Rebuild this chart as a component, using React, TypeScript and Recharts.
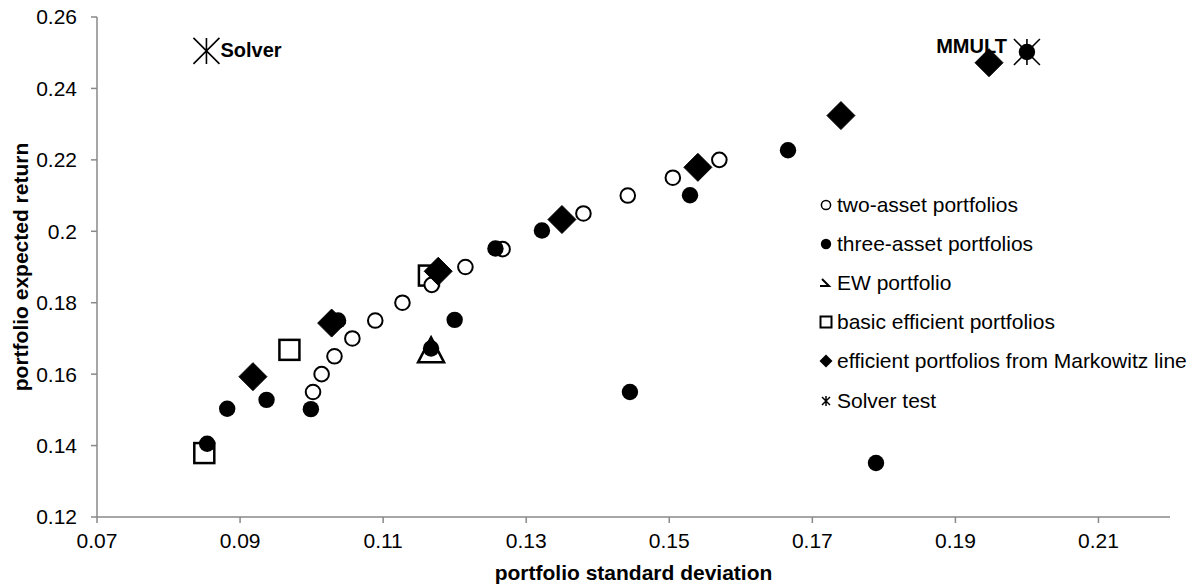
import React from 'react';
import { ScatterChart, Scatter, XAxis, YAxis, Legend, Label } from 'recharts';

const FONT = '"Liberation Sans", Arial, sans-serif';
const AXIS = '#898989';

// portfolio std dev / expected return per series
const twoAssetSd = [0.1002, 0.1014, 0.1032, 0.1057, 0.1089, 0.1127, 0.1168, 0.1215, 0.1267, 0.138, 0.1442, 0.1505, 0.157];
const twoAssetRet = [0.155, 0.16, 0.165, 0.17, 0.175, 0.18, 0.185, 0.19, 0.195, 0.205, 0.21, 0.215, 0.22];

const threeAssetSd = [0.0854, 0.0882, 0.0937, 0.0999, 0.1037, 0.1167, 0.12, 0.1257, 0.1322, 0.1445, 0.1529, 0.1666, 0.1789, 0.2];
const threeAssetRet = [0.1405, 0.1503, 0.1528, 0.1502, 0.175, 0.1672, 0.1752, 0.1952, 0.2002, 0.155, 0.2101, 0.2227, 0.1351, 0.2502];

const ewSd = [0.1167];
const ewRet = [0.1668];

const basicSd = [0.085, 0.0969, 0.1164];
const basicRet = [0.1379, 0.1668, 0.1876];

const markowitzSd = [0.0918, 0.1028, 0.1177, 0.135, 0.154, 0.174, 0.1947];
const markowitzRet = [0.1593, 0.1743, 0.1888, 0.2033, 0.2179, 0.2324, 0.2472];

const solverSd = [0.0853, 0.2];
const solverRet = [0.2505, 0.2502];
const solverLabels = ['Solver', 'MMULT'];

const xTicks = [0.07, 0.09, 0.11, 0.13, 0.15, 0.17, 0.19, 0.21];
const yTicks = [0.12, 0.14, 0.16, 0.18, 0.2, 0.22, 0.24, 0.26];

const legendNames = [
  'two-asset portfolios',
  'three-asset portfolios',
  'EW portfolio',
  'basic efficient portfolios',
  'efficient portfolios from Markowitz line',
  'Solver test',
];

const zip = (xs: number[], ys: number[]) => xs.map((x, i) => ({ x, y: ys[i] }));
const fmt = (v: number) => String(Number(v.toFixed(2)));

const OpenCircle = (p: any) => (
  <circle cx={p.cx} cy={p.cy} r={7.3} fill="#fff" stroke="#000" strokeWidth={2} />
);
const FilledCircle = (p: any) => <circle cx={p.cx} cy={p.cy} r={8.2} fill="#000" />;
const Square = (p: any) => (
  <rect x={p.cx - 10} y={p.cy - 10} width={20} height={20} fill="none" stroke="#000" strokeWidth={2.5} />
);
const Triangle = (p: any) => (
  <polygon
    points={`${p.cx},${p.cy - 12.5} ${p.cx + 13},${p.cy + 12.5} ${p.cx - 13},${p.cy + 12.5}`}
    fill="none"
    stroke="#000"
    strokeWidth={2.5}
    strokeLinejoin="miter"
  />
);
const Diamond = (p: any) => (
  <polygon
    points={`${p.cx},${p.cy - 14} ${p.cx + 14},${p.cy} ${p.cx},${p.cy + 14} ${p.cx - 14},${p.cy}`}
    fill="#000"
    stroke="#000"
    strokeWidth={1}
    strokeLinejoin="round"
  />
);
const Star = (p: any) => {
  const { cx, cy, index } = p;
  const h = 13;
  const label = solverLabels[index];
  const left = index === 1;
  return (
    <g>
      <path
        d={`M${cx - h},${cy - h}L${cx + h},${cy + h}M${cx + h},${cy - h}L${cx - h},${cy + h}M${cx},${cy - h}L${cx},${cy + h}`}
        stroke="#000"
        strokeWidth={1.6}
        fill="none"
      />
      <text
        x={left ? cx - 20 : cx + 14}
        y={left ? cy + 1 : cy + 6}
        textAnchor={left ? 'end' : 'start'}
        fontFamily={FONT}
        fontSize={20}
        fontWeight="bold"
        fill="#000"
      >
        {label}
      </text>
    </g>
  );
};

const legendIcons = [
  <circle cx={8} cy={8} r={4.6} fill="none" stroke="#000" strokeWidth={1.5} />,
  <circle cx={8} cy={8} r={5.2} fill="#000" />,
  <path d="M4,4 L11,11 L2,11" fill="none" stroke="#000" strokeWidth={2} />,
  <rect x={2.5} y={2.5} width={11} height={11} fill="none" stroke="#000" strokeWidth={2} />,
  <polygon points="8,1.5 14.5,8 8,14.5 1.5,8" fill="#000" />,
  <path d="M4,4L12,12M12,4L4,12M8,3L8,13" stroke="#000" strokeWidth={1.5} fill="none" />,
];

const LegendBox = () => (
  <div style={{ fontFamily: FONT, fontSize: 21, color: '#000' }}>
    {legendNames.map((name, i) => (
      <div key={name} style={{ display: 'flex', alignItems: 'center', height: 39.2, whiteSpace: 'nowrap' }}>
        <svg width={16} height={16} style={{ marginRight: 3 }}>
          {legendIcons[i]}
        </svg>
        <span>{name}</span>
      </div>
    ))}
  </div>
);

export default function App() {
  return (
    <div style={{ position: 'absolute', left: 0, top: 0, background: '#fff' }}>
      <ScatterChart width={1198} height={586} margin={{ top: 17, right: 28, bottom: 0, left: 0 }}>
        <XAxis
          type="number"
          dataKey="x"
          domain={[0.07, 0.22]}
          ticks={xTicks}
          interval={0}
          tickFormatter={fmt}
          tickSize={6}
          tickMargin={10}
          height={69}
          stroke={AXIS}
          strokeWidth={1.5}
          tick={{ fill: '#000', fontSize: 21, fontFamily: FONT }}
          allowDataOverflow
        >
          <Label
            value="portfolio standard deviation"
            position="insideBottom"
            offset={6}
            fill="#000"
            fontSize={21}
            fontWeight="bold"
            fontFamily={FONT}
          />
        </XAxis>
        <YAxis
          type="number"
          dataKey="y"
          domain={[0.12, 0.26]}
          ticks={yTicks}
          interval={0}
          tickFormatter={fmt}
          tickSize={6}
          tickMargin={14}
          width={97}
          stroke={AXIS}
          strokeWidth={1.5}
          tick={{ fill: '#000', fontSize: 21, fontFamily: FONT }}
          allowDataOverflow
        >
          <Label
            value="portfolio expected return"
            position="insideLeft"
            angle={-90}
            offset={21}
            fill="#000"
            fontSize={21}
            fontWeight="bold"
            fontFamily={FONT}
            style={{ textAnchor: 'middle' }}
          />
        </YAxis>
        <Legend
          layout="vertical"
          align="center"
          verticalAlign="middle"
          content={() => <LegendBox />}
          wrapperStyle={{ left: 818, top: 185, width: 380 }}
        />
        <Scatter name="basic efficient portfolios" data={zip(basicSd, basicRet)} shape={Square} isAnimationActive={false} />
        <Scatter name="EW portfolio" data={zip(ewSd, ewRet)} shape={Triangle} isAnimationActive={false} />
        <Scatter name="two-asset portfolios" data={zip(twoAssetSd, twoAssetRet)} shape={OpenCircle} isAnimationActive={false} />
        <Scatter name="three-asset portfolios" data={zip(threeAssetSd, threeAssetRet)} shape={FilledCircle} isAnimationActive={false} />
        <Scatter name="efficient portfolios from Markowitz line" data={zip(markowitzSd, markowitzRet)} shape={Diamond} isAnimationActive={false} />
        <Scatter name="Solver test" data={zip(solverSd, solverRet)} shape={Star} isAnimationActive={false} />
      </ScatterChart>
    </div>
  );
}
